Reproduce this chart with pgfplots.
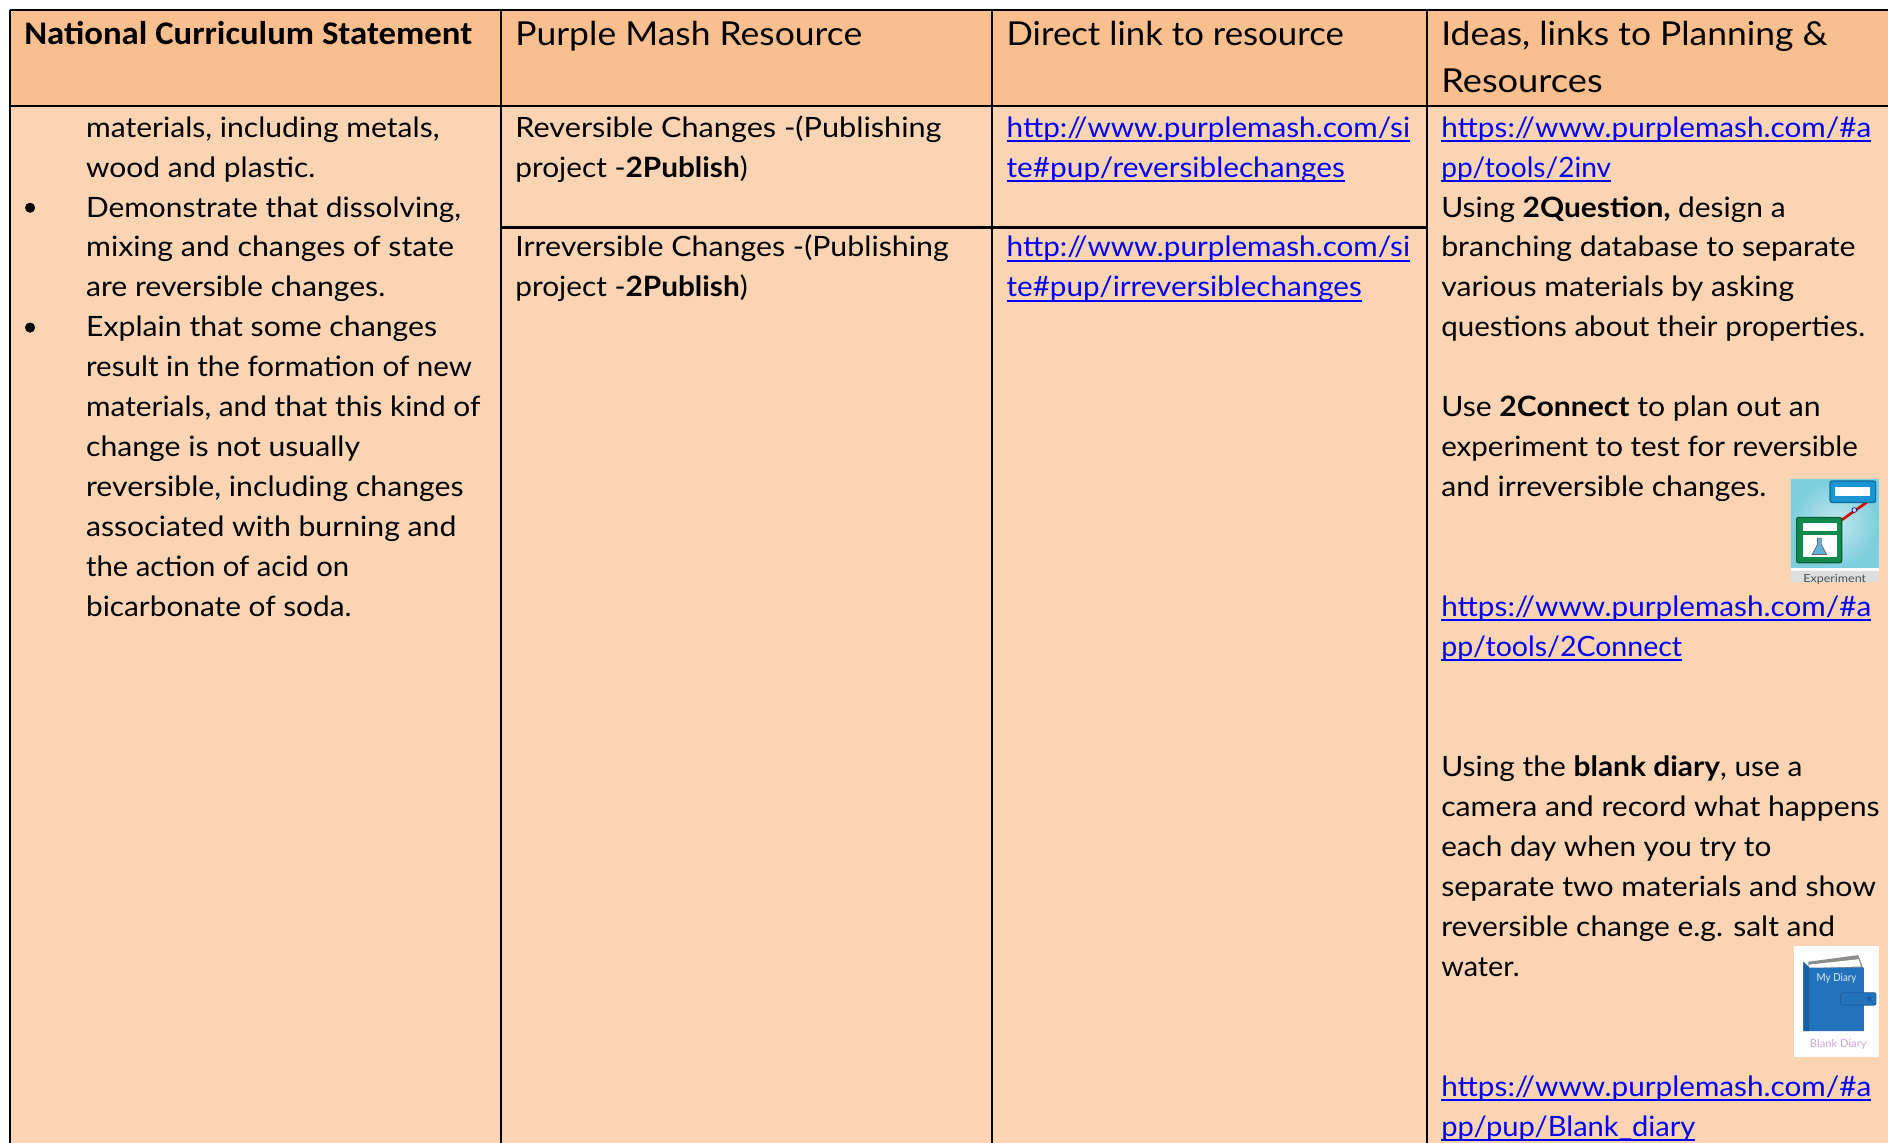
\documentclass[border=0pt]{standalone}
\usepackage{pgfplots}
\pgfplotsset{compat=1.18}
\usepackage{graphicx}
\usepackage{fontspec}
\setmainfont{Lato}
\newfontfamily\carlito{Carlito}
\definecolor{hdr}{HTML}{FABF8F}
\definecolor{bdy}{HTML}{FBD4B4}
\definecolor{lnk}{HTML}{0000FF}
\definecolor{dblue}{HTML}{2272BC}
\definecolor{ddark}{HTML}{1B5E9E}
\definecolor{ebox}{HTML}{1C93D2}
\definecolor{eboxd}{HTML}{0F6A9E}
\definecolor{gbox}{HTML}{108A4C}
\definecolor{gboxd}{HTML}{0B5E35}
\definecolor{tealo}{HTML}{7CCEDC}
\definecolor{teali}{HTML}{C4E8EE}
\newcommand{\fs}{\fontsize{28}{30}\selectfont}
\newcommand{\fh}{\fontsize{33}{36}\selectfont}
% x0, x1, baseline, text
\newcommand{\TL}[4]{\node[anchor=base west,inner sep=0pt,outer sep=0pt] at (#1,#3) {\fs\pgfmathsetlengthmacro\myw{(#2-#1)*1.20408}\resizebox{\myw}{\height}{#4}};}
\newcommand{\LK}[4]{\node[anchor=base west,inner sep=0pt,outer sep=0pt,text=lnk] at (#1,#3) {\fs\pgfmathsetlengthmacro\myw{(#2-#1)*1.20408}\resizebox{\myw}{\height}{#4}};
\draw[lnk,line width=2pt] (#1,#3+3) -- (#2,#3+3);}
\newcommand{\HD}[4]{\node[anchor=base west,inner sep=0pt,outer sep=0pt] at (#1,#3) {\fh\pgfmathsetlengthmacro\myw{(#2-#1)*1.20408}\resizebox{\myw}{\height}{#4}};}
\newcommand{\SM}[5]{\node[anchor=base,inner sep=0pt,outer sep=0pt,text=#5] at (#1,#2) {\fontsize{11}{12}\selectfont\pgfmathsetlengthmacro\myw{#3*1.20408}\resizebox{\myw}{\height}{#4}};}
\begin{document}
\begin{tikzpicture}
\begin{axis}[x=1.20408pt,y=1.2043pt,y dir=reverse,xmin=0,xmax=1568,ymin=0,ymax=949,hide axis,clip=true]
% cell fills
\addplot[fill=white,draw=none] coordinates {(0,0)(1568,0)(1568,949)(0,949)(0,0)};
\addplot[fill=hdr,draw=none] coordinates {(8,8.3)(1568,8.3)(1568,88)(8,88)(8,8.3)};
\addplot[fill=bdy,draw=none] coordinates {(8,88)(1568,88)(1568,949)(8,949)(8,88)};
% rules
\addplot[black,line width=2.4pt] coordinates {(8,8.3)(1568,8.3)};
\addplot[black,line width=2.4pt] coordinates {(8,88)(1568,88)};
\addplot[black,line width=2.4pt] coordinates {(416,188.8)(1185,188.8)};
\addplot[black,line width=2.4pt] coordinates {(8.3,8.3)(8.3,949)};
\addplot[black,line width=2.4pt] coordinates {(416,8.3)(416,949)};
\addplot[black,line width=2.4pt] coordinates {(824,8.3)(824,949)};
\addplot[black,line width=2.4pt] coordinates {(1185,8.3)(1185,949)};
% header
\node[anchor=base west,inner sep=0pt] at (20,37) {\fh\carlito\bfseries\pgfmathsetlengthmacro\myw{372*1.20408}\resizebox{\myw}{\height}{National Curriculum Statement}};
\HD{428}{716}{38}{Purple Mash Resource}
\HD{836}{1116}{38}{Direct link to resource}
\HD{1197}{1518}{38}{Ideas, links to Planning \&}
\HD{1197}{1331}{77.2}{Resources}
% column 1
\TL{71.5}{365}{113.8}{materials, including metals,}
\TL{71.5}{262}{147}{wood and plastic.}
\TL{71.5}{383}{180.2}{Demonstrate that dissolving,}
\TL{71.5}{377}{213.4}{mixing and changes of state}
\TL{71.5}{320}{246.6}{are reversible changes.}
\TL{71.5}{363}{279.8}{Explain that some changes}
\TL{71.5}{392}{313}{result in the formation of new}
\TL{71.5}{399}{346.2}{materials, and that this kind of}
\TL{71.5}{299}{379.4}{change is not usually}
\TL{71.5}{385}{412.6}{reversible, including changes}
\TL{71.5}{379}{445.8}{associated with burning and}
\TL{71.5}{290}{479}{the action of acid on}
\TL{71.5}{292}{512.2}{bicarbonate of soda.}
\addplot[only marks,mark=*,mark size=4.8pt,black] coordinates {(25,172.5)(25,272)};
% column 2
\TL{428}{782}{113.8}{Reversible Changes -(Publishing}
\TL{428}{621}{147}{project -\textbf{2Publish})}
\TL{428}{788}{213.4}{Irreversible Changes -(Publishing}
\TL{428}{621}{246.6}{project -\textbf{2Publish})}
% column 3
\LK{836}{1171}{113.8}{http://www.purplemash.com/si}
\LK{836}{1117}{147}{te\#pup/reversiblechanges}
\LK{836}{1171}{213.4}{http://www.purplemash.com/si}
\LK{836}{1131}{246.6}{te\#pup/irreversiblechanges}
% column 4
\LK{1197}{1554}{113.8}{https://www.purplemash.com/\#a}
\LK{1197}{1338}{147}{pp/tools/2inv}
\TL{1197}{1483}{180.2}{Using \textbf{2Question,} design a}
\TL{1197}{1541}{213.4}{branching database to separate}
\TL{1197}{1490}{246.6}{various materials by asking}
\TL{1197}{1549}{279.8}{questions about their properties.}
\TL{1197}{1512}{346.2}{Use \textbf{2Connect} to plan out an}
\TL{1197}{1543}{379.4}{experiment to test for reversible}
\TL{1197}{1467}{412.6}{and irreversible changes.}
\LK{1197}{1554}{512.2}{https://www.purplemash.com/\#a}
\LK{1197}{1397}{545.4}{pp/tools/2Connect}
\TL{1197}{1497}{645}{Using the \textbf{blank diary}, use a}
\TL{1197}{1561}{678.2}{camera and record what happens}
\TL{1197}{1471}{711.4}{each day when you try to}
\TL{1197}{1558}{744.6}{separate two materials and show}
\TL{1197}{1524}{777.8}{reversible change e.g. salt and}
\TL{1197}{1262}{811}{water.}
\LK{1197}{1554}{910.6}{https://www.purplemash.com/\#a}
\LK{1197}{1408}{943.8}{pp/pup/Blank\_diary}
% Experiment icon
\fill[inner color=teali,outer color=tealo] (1487.4,397.8) rectangle (1560.5,472);
\fill[white] (1487.4,472) rectangle (1560.5,474.2);
\fill[black!13] (1487.4,474.2) rectangle (1560.5,483.3);
\SM{1523.8}{483.3}{52}{Experiment}{black!70}
\draw[red!85!black,line width=2.6pt] (1529.5,431.8) -- (1550.2,417.2);
\draw[fill=blue!20,draw=blue!50!black,line width=.6pt] (1540,423.5) circle[radius=2];
\draw[fill=ebox,draw=eboxd,line width=1.2pt,rounded corners=2pt] (1519.8,399.4) rectangle (1557.7,417.2);
\fill[white] (1523.9,404.2) rectangle (1553,411.9);
\draw[fill=gbox,draw=gboxd,line width=1.2pt,rounded corners=2pt] (1492.1,429.6) rectangle (1529.5,467.3);
\fill[white] (1497,434) rectangle (1525.3,440.7);
\fill[white] (1497,444.3) rectangle (1525.9,462.8);
\draw[fill=ebox!70!white,draw=black!60,line width=.8pt] (1509.5,447) -- (1509.5,452) -- (1505,460.5) -- (1517,460.5) -- (1512.5,452) -- (1512.5,447) -- cycle;
% Diary icon
\fill[white] (1490,785.6) rectangle (1560.5,877.8);
\fill[black!45] (1501.8,798.6) -- (1543.3,793.1) -- (1547.5,804.1) -- (1501.8,804.1) -- cycle;
\fill[white] (1502.5,801) -- (1543.6,796.5) -- (1545.5,802.5) -- (1502.5,804) -- cycle;
\fill[dblue] (1497.6,798.6) -- (1502.6,803.5) -- (1548,803.5) -- (1548,856.2) -- (1497.6,856.2) -- cycle;
\fill[ddark] (1497.6,798.6) -- (1502.6,803.5) -- (1502.6,856.2) -- (1497.6,856.2) -- cycle;
\draw[fill=dblue,draw=ddark,line width=.9pt,rounded corners=2pt] (1528.6,824.3) rectangle (1558,834.6);
\fill[ddark] (1552.4,829.3) circle[radius=2];
\SM{1525.3}{815}{33}{My Diary}{white!85!dblue}
\SM{1526.7}{870}{47}{Blank Diary}{violet!35!white}
\end{axis}
\end{tikzpicture}
\end{document}
